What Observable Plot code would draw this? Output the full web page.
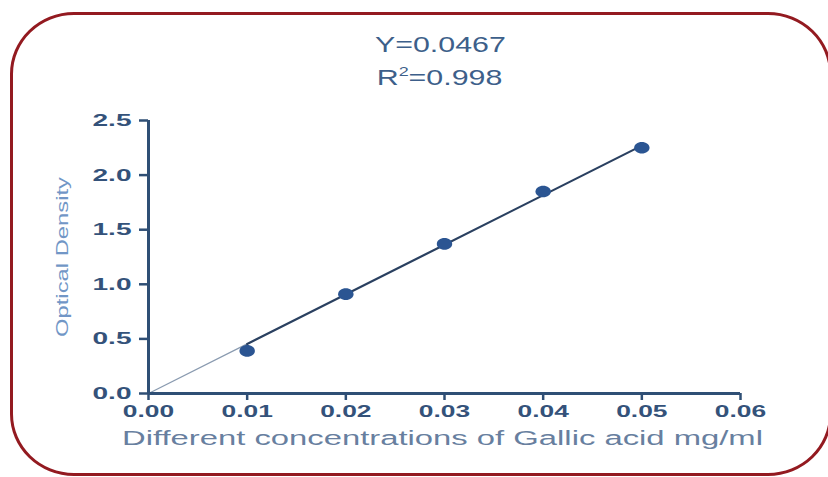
<!DOCTYPE html>
<html>
<head>
<meta charset="utf-8">
<script src="https://cdn.jsdelivr.net/npm/d3@7"></script>
<script src="https://cdn.jsdelivr.net/npm/@observablehq/plot@0.6"></script>
<style>
  html, body { margin: 0; padding: 0; background: #fff; }
  #wrap { position: relative; width: 828px; height: 477px; overflow: hidden; background: #fff; font-family: "Liberation Sans", Arial, sans-serif; }
  #frame { position: absolute; left: 10px; top: 12px; width: 822px; height: 464px; border: 3px solid #931a20; border-radius: 64px / 62px; box-sizing: border-box; }
  #title { position: absolute; left: 0; width: 880px; top: 28px; text-align: center; color: #3d5f8a; font-size: 22px; line-height: 33px; }
  #title div span { display: inline-block; transform: scaleX(1.38); }
  #title sup { font-size: 13px; vertical-align: 9px; line-height: 0; }
  #chart { position: absolute; left: 0; top: 0; }
</style>
</head>
<body>
<div id="wrap">
  <div id="frame"></div>
  <div id="chart"></div>
  <div id="title"><div><span>Y=0.0467</span></div><div><span>R<sup>2</sup>=0.998</span></div></div>
</div>
<script>
const concentrations = [0.01, 0.02, 0.03, 0.04, 0.05];
const opticalDensity = [0.39, 0.91, 1.37, 1.85, 2.25];
const xTicks = [0, 0.01, 0.02, 0.03, 0.04, 0.05, 0.06];
const yTicks = [0, 0.5, 1.0, 1.5, 2.0, 2.5];
const xLabel = "Different concentrations of Gallic acid mg/ml";
const yLabel = "Optical Density";

const points = concentrations.map((c, i) => ({x: c, y: opticalDensity[i]}));
// least-squares fit through the origin
const slope = d3.sum(points, d => d.x * d.y) / d3.sum(points, d => d.x * d.x);
const fitLight = [0, concentrations[0]].map(x => ({x, y: slope * x}));
const fitDark = [concentrations[0], concentrations[concentrations.length - 1]].map(x => ({x, y: slope * x}));

// horizontally stretched ellipse symbol (the reference image is widened)
const ellipse = {
  draw(ctx, size) {
    const ry = Math.sqrt(size / Math.PI), rx = ry * 1.33, k = 0.5523;
    ctx.moveTo(rx, 0);
    ctx.bezierCurveTo(rx, k * ry, k * rx, ry, 0, ry);
    ctx.bezierCurveTo(-k * rx, ry, -rx, k * ry, -rx, 0);
    ctx.bezierCurveTo(-rx, -k * ry, -k * rx, -ry, 0, -ry);
    ctx.bezierCurveTo(k * rx, -ry, rx, -k * ry, rx, 0);
    ctx.closePath();
  }
};

const axisColor = "#2f4f75";
const chart = Plot.plot({
  width: 828,
  height: 477,
  marginLeft: 148,
  marginRight: 88,
  marginTop: 120,
  marginBottom: 84,
  style: {fontFamily: "'Liberation Sans', Arial, sans-serif", background: "transparent", overflow: "visible"},
  x: {domain: [0, 0.06], ticks: xTicks, tickFormat: d3.format(".2f"), label: null},
  y: {domain: [0, 2.5], ticks: yTicks, tickFormat: d3.format(".1f"), label: null},
  marks: [
    Plot.line(fitLight, {x: "x", y: "y", stroke: "#8a9bb0", strokeWidth: 1.3}),
    Plot.line(fitDark, {x: "x", y: "y", stroke: "#2a4060", strokeWidth: 2.2}),
    Plot.dot(points, {x: "x", y: "y", r: 5.8, symbol: ellipse, fill: "#2b5592", stroke: "none"}),
    Plot.axisX({ticks: xTicks, tickFormat: d3.format(".2f"), tickSize: 7, tickPadding: 4, stroke: axisColor, strokeWidth: 2.5,
      fill: "#34527a", fontSize: 17, fontWeight: "bold", label: null}),
    Plot.axisY({ticks: yTicks, tickFormat: d3.format(".1f"), tickSize: 9, tickPadding: 8, stroke: axisColor, strokeWidth: 2.5,
      fill: "#34527a", fontSize: 17, fontWeight: "bold", label: null}),
    Plot.ruleX([0], {stroke: axisColor, strokeWidth: 3}),
    Plot.ruleY([0], {stroke: axisColor, strokeWidth: 3}),
    Plot.text([xLabel], {frameAnchor: "bottom", dx: -2, dy: 51, fill: "#687f9f", fontSize: 20, text: d => d}),
    Plot.text([yLabel], {frameAnchor: "left", textAnchor: "middle", dx: -86, dy: 0, rotate: -90, fill: "#7196c6", fontSize: 17, text: d => d})
  ]
});
document.getElementById("chart").appendChild(chart);

function fit(t, len) {
  t.setAttribute("textLength", len);
  t.setAttribute("lengthAdjust", "spacingAndGlyphs");
}
chart.querySelectorAll('g[aria-label="x-axis tick label"] text').forEach(t => fit(t, t.getComputedTextLength() * 1.55));
chart.querySelectorAll('g[aria-label="y-axis tick label"] text').forEach(t => fit(t, t.getComputedTextLength() * 1.65));
chart.querySelectorAll('g[aria-label="text"] text').forEach(t => {
  if (t.textContent === xLabel) fit(t, 641);
  else if (t.textContent === yLabel) fit(t, 160);
});
</script>
</body>
</html>
